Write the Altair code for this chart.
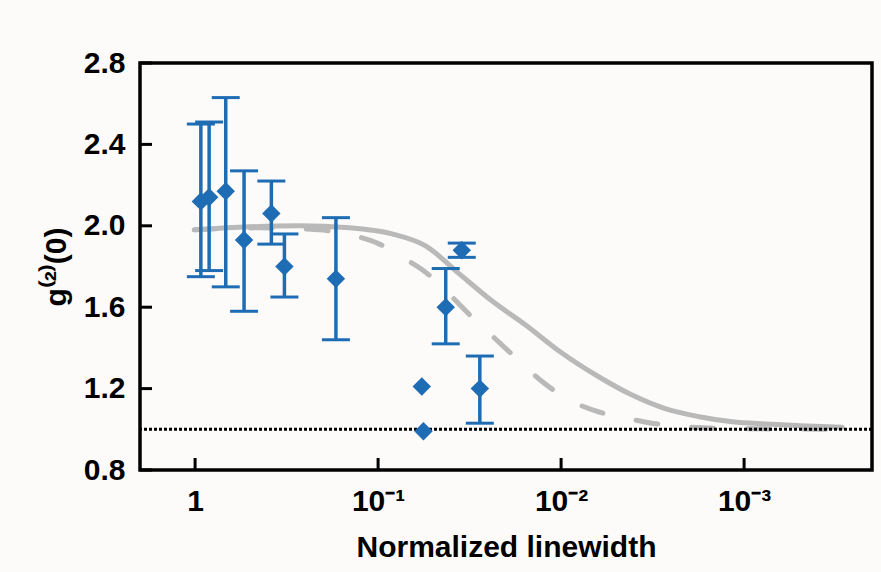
import altair as alt
import pandas as pd

# ---- data ----
pt_x = [0.93, 0.838, 0.680, 0.540, 0.383, 0.325, 0.170, 0.0349, 0.0427, 0.0577, 0.0565, 0.0278]
pt_y = [2.12, 2.14, 2.17, 1.93, 2.06, 1.80, 1.74, 1.88, 1.60, 1.21, 0.99, 1.20]

err_x = [0.93, 0.838, 0.680, 0.540, 0.383, 0.325, 0.170, 0.0349, 0.0427, 0.0278]
err_lo = [1.75, 1.78, 1.70, 1.58, 1.91, 1.65, 1.44, 1.845, 1.42, 1.03]
err_hi = [2.50, 2.51, 2.63, 2.27, 2.22, 1.96, 2.04, 1.915, 1.79, 1.36]

solid_x = [1.01, 0.507, 0.270, 0.144, 0.0838, 0.0547, 0.0361, 0.0238, 0.0155, 0.01026,
           0.0062, 0.00409, 0.00267, 0.00176, 0.00116, 0.000758, 0.0005, 0.000291]
solid_y = [1.98, 1.995, 2.0, 1.99, 1.96, 1.90, 1.765, 1.63, 1.51, 1.385,
           1.257, 1.168, 1.10, 1.062, 1.037, 1.026, 1.018, 1.01]

dash_x = [1.01, 0.447, 0.210, 0.127, 0.101, 0.0721, 0.0547, 0.0394, 0.0306, 0.0232, 0.0176,
          0.0127, 0.00927, 0.0062, 0.00442, 0.00343, 0.00257, 0.00137, 0.000291]
dash_y = [1.98, 1.99, 1.98, 1.945, 1.915, 1.84, 1.77, 1.65, 1.55, 1.45, 1.35,
          1.235, 1.15, 1.085, 1.055, 1.035, 1.02, 1.005, 1.0]

x_ticks = [1, 0.1, 0.01, 0.001]
y_ticks = [0.8, 1.2, 1.6, 2.0, 2.4, 2.8]
baseline_value = [1.0]

BLUE = "#1d6cb4"
GRAY = "#b9b9b9"
FONT = "Liberation Sans"

W, H = 732, 407

xscale = alt.Scale(type="log", domain=[0.0002, 2], reverse=True, nice=False)
yscale = alt.Scale(domain=[0.8, 2.8], nice=False, zero=False)

x_axis = alt.Axis(
    values=x_ticks,
    labelExpr="datum.value >= 0.9 ? '1' : datum.value >= 0.09 ? '10⁻¹' : datum.value >= 0.009 ? '10⁻²' : '10⁻³'",
    title="Normalized linewidth",
    ticks=False, tickSize=0, domain=False, grid=False,
    labelPadding=40, labelBaseline="alphabetic",
    titleY=86, titleBaseline="alphabetic",
)
y_axis = alt.Axis(
    values=y_ticks, format=".1f",
    title="g⁽²⁾(0)",
    ticks=False, tickSize=0, domain=False, grid=False,
    labelPadding=15,
    titleX=-84, titleY=H / 2, titleAlign="center", titleBaseline="middle", titleAngle=-90,
)


def X(field):
    return alt.X(f"{field}:Q", scale=xscale, axis=x_axis)


def Y(field):
    return alt.Y(f"{field}:Q", scale=yscale, axis=y_axis)


solid_df = pd.DataFrame({"x": solid_x, "y": solid_y})
dash_df = pd.DataFrame({"x": dash_x, "y": dash_y})
pts_df = pd.DataFrame({"x": pt_x, "y": pt_y})
err_df = pd.DataFrame({"x": err_x, "lo": err_lo, "hi": err_hi})
xt_df = pd.DataFrame({"x": x_ticks})
yt_df = pd.DataFrame({"y": y_ticks})
base_df = pd.DataFrame({"y": baseline_value})

solid = alt.Chart(solid_df).mark_line(color=GRAY, strokeWidth=5, interpolate="monotone",
                                      strokeCap="round").encode(x=X("x"), y=Y("y"))
dashed = alt.Chart(dash_df).mark_line(color=GRAY, strokeWidth=5, interpolate="monotone",
                                      strokeDash=[22, 34], strokeCap="round").encode(x=X("x"), y=Y("y"))
dotted = alt.Chart(base_df).mark_rule(color="black", strokeWidth=3, strokeDash=[3, 2]).encode(y=Y("y"))

xticks = alt.Chart(xt_df).mark_rule(color="black", strokeWidth=3).encode(
    x=X("x"), y=alt.value(H), y2=alt.value(H - 12))
yticks = alt.Chart(yt_df).mark_rule(color="black", strokeWidth=3).encode(
    y=Y("y"), x=alt.value(0), x2=alt.value(12))

bars = alt.Chart(err_df).mark_rule(color=BLUE, strokeWidth=3.5).encode(
    x=X("x"), y=Y("lo"), y2="hi")
cap_lo = alt.Chart(err_df).mark_tick(color=BLUE, orient="horizontal", size=28, thickness=3,
                                     opacity=1).encode(x=X("x"), y=Y("lo"))
cap_hi = alt.Chart(err_df).mark_tick(color=BLUE, orient="horizontal", size=28, thickness=3,
                                     opacity=1).encode(x=X("x"), y=Y("hi"))
points = alt.Chart(pts_df).mark_point(shape="diamond", filled=True, size=340, color=BLUE,
                                      opacity=1).encode(x=X("x"), y=Y("y"))

chart = alt.layer(solid, dashed, dotted, xticks, yticks, bars, cap_lo, cap_hi, points).properties(
    width=W, height=H,
    autosize=alt.AutoSizeParams(type="none"),
    padding={"left": 140, "top": 63, "right": 9, "bottom": 102},
    background="#fdfbf9",
).configure_view(
    stroke="black", strokeWidth=3.5, fill="#fdfbf9"
).configure_axis(
    labelFont=FONT, labelFontWeight="bold", labelFontSize=30, labelColor="black",
    titleFont=FONT, titleFontWeight="bold", titleFontSize=30, titleColor="black",
)

chart.save("out.html", embed_options={"renderer": "svg", "actions": False})
